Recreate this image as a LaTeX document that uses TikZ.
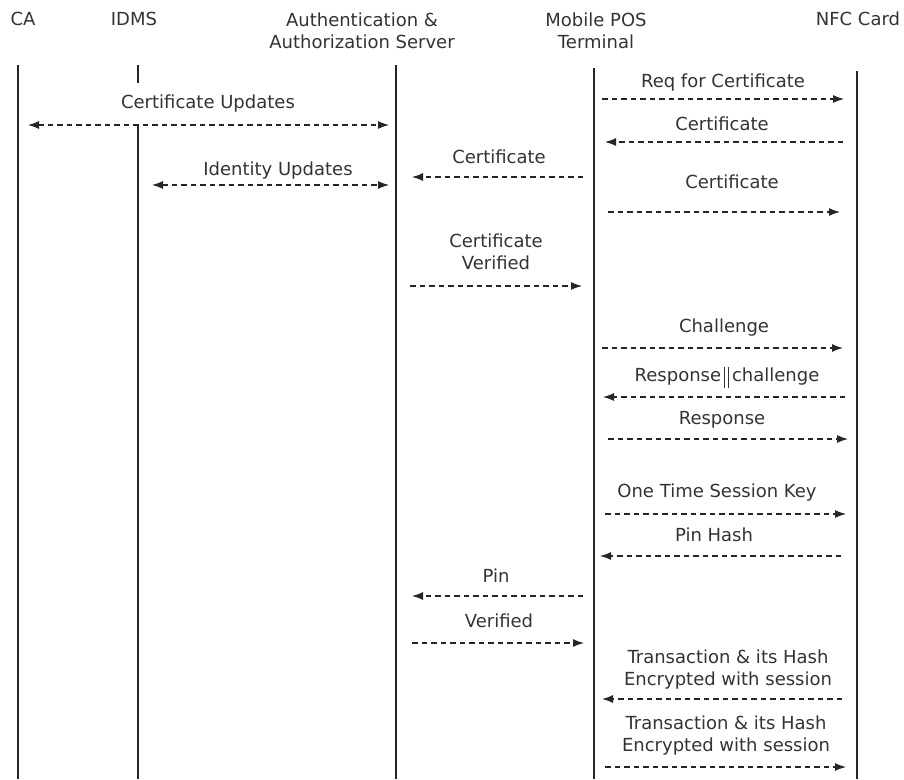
\documentclass[tikz,border=0pt]{standalone}
\usepackage{fontspec}
\setmainfont{DejaVu Sans}
\usetikzlibrary{arrows.meta}
\begin{document}
\begin{tikzpicture}[x=1pt,y=-1pt,
  life/.style={line width=1.4pt, draw=black!85},
  tip/.style={-{Latex[length=11pt,width=8pt]}},
  msg/.style={dash pattern=on 5.5pt off 4pt, line width=1.1pt, draw=black!85, tip},
  dmsg/.style={dash pattern=on 5.5pt off 4pt, line width=1.1pt, draw=black!85, {Latex[length=11pt,width=8pt]}-{Latex[length=11pt,width=8pt]}},
  lbl/.style={font=\fontsize{18}{22}\selectfont, text=black!80, inner sep=0pt, align=center, anchor=base},
]
\useasboundingbox (0,0) rectangle (904,779);
% headers
\node[lbl] (hca) at (23,25) {CA};
\node[lbl] (hidms) at (134,25) {IDMS};
\node[lbl] (hauth) at (362,48) {Authentication \&\\Authorization Server};
\node[lbl] (hmpos) at (596,48) {Mobile POS\\Terminal};
\node[lbl] (hnfc) at (858,25) {NFC Card};
% lifelines
\coordinate (ca1) at (18,65);   \coordinate (ca2) at (18,779);
\coordinate (id1) at (138,65);  \coordinate (id2) at (138,83);
\coordinate (id3) at (138,125); \coordinate (id4) at (138,779);
\coordinate (au1) at (396,65);  \coordinate (au2) at (396,779);
\coordinate (mp1) at (594,68);  \coordinate (mp2) at (594,779);
\coordinate (nf1) at (857,71);  \coordinate (nf2) at (857,779);
\draw[life] (ca1) -- (ca2);
\draw[life] (id1) -- (id2);
\draw[life] (id3) -- (id4);
\draw[life] (au1) -- (au2);
\draw[life] (mp1) -- (mp2);
\draw[life] (nf1) -- (nf2);
% messages
\draw[msg] (602,99) -- (844,99);
\node[lbl] (l1) at (723,87) {Req for Certificate};
\draw[msg] (843,142) -- (605,142);
\node[lbl] (l2) at (722,130) {Certificate};
\draw[dmsg] (28,125) -- (389,125);
\node[lbl] (l3) at (208,108) {Certificate Updates};
\draw[msg] (583,177) -- (412,177);
\node[lbl] (l4) at (499,163) {Certificate};
\draw[dmsg] (152,185) -- (389,185);
\node[lbl] (l5) at (278,175) {Identity Updates};
\draw[msg] (608,212) -- (840,212);
\node[lbl] (l6) at (732,188) {Certificate};
\draw[msg] (410,286) -- (582,286);
\node[lbl] (l7) at (496,269) {Certificate\\Verified};
\draw[msg] (602,348) -- (843,348);
\node[lbl] (l8) at (724,332) {Challenge};
\draw[msg] (845,397) -- (603,397);
\node[lbl] (l9) at (727,381) {Response\,\raisebox{-7pt}{\rule{1.2pt}{21pt}\hspace{2.5pt}\rule{1.2pt}{21pt}}\,challenge};
\draw[msg] (608,439) -- (848,439);
\node[lbl] (l10) at (722,424) {Response};
\draw[msg] (605,514) -- (846,514);
\node[lbl] (l11) at (717,497) {One Time Session Key};
\draw[msg] (841,556) -- (600,556);
\node[lbl] (l12) at (714,541) {Pin Hash};
\draw[msg] (583,596) -- (412,596);
\node[lbl] (l13) at (496,582) {Pin};
\draw[msg] (412,643) -- (584,643);
\node[lbl] (l14) at (499,627) {Verified};
\draw[msg] (842,699) -- (602,699);
\node[lbl] (l15) at (728,685) {Transaction \& its Hash\\Encrypted with session};
\draw[msg] (605,767) -- (846,767);
\node[lbl] (l16) at (726,751) {Transaction \& its Hash\\Encrypted with session};
\end{tikzpicture}
\end{document}
